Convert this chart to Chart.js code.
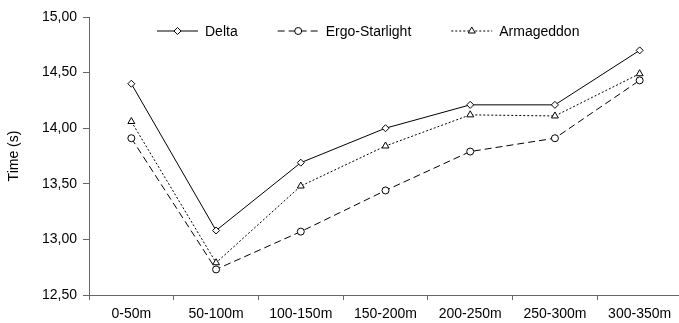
<!DOCTYPE html>
<html>
<head>
<meta charset="utf-8">
<script src="https://cdn.jsdelivr.net/npm/chart.js@4/dist/chart.umd.min.js"></script>
<style>
  html, body { margin: 0; padding: 0; background: #fff; overflow: hidden; }
  #wrap { width: 687px; height: 323px; position: relative; }
</style>
</head>
<body>
<div id="wrap"><canvas id="myChart"></canvas></div>
<script>
// Distance segments along the x-axis
var segments = ['0-50m', '50-100m', '100-150m', '150-200m', '200-250m', '250-300m', '300-350m'];
// Split times in seconds
var delta = [14.40, 13.08, 13.69, 14.00, 14.21, 14.21, 14.70];
var ergoStarlight = [13.91, 12.73, 13.07, 13.44, 13.79, 13.91, 14.43];
var armageddon = [14.06, 12.79, 13.48, 13.84, 14.12, 14.11, 14.49];

var fontFamily = '"Liberation Sans", Arial, Helvetica, sans-serif';

// legend with a short line sample and the marker on it
var lineLegend = {
  id: 'lineLegend',
  afterDraw: function(chart) {
    var c = chart.ctx;
    c.save();
    c.font = '14px ' + fontFamily;
    c.textBaseline = 'middle';
    var x = 157, y = 31, sample = 41;
    chart.data.datasets.forEach(function(ds) {
      c.strokeStyle = ds.borderColor;
      c.lineWidth = 1;
      c.setLineDash(ds.borderDash || []);
      c.beginPath();
      c.moveTo(x, y);
      c.lineTo(x + sample, y);
      c.stroke();
      c.setLineDash([]);
      c.fillStyle = '#fff';
      Chart.helpers.drawPoint(c, {pointStyle: ds.pointStyle, radius: ds.pointRadius, borderWidth: 1}, x + sample / 2, y);
      c.fillStyle = '#000';
      c.fillText(ds.label, x + sample + 7, y + 1);
      x += sample + 7 + c.measureText(ds.label).width + 40;
    });
    c.restore();
  }
};

var ctx = document.getElementById('myChart');
var myChart = new Chart(ctx, {
  type: 'line',
  data: {
    labels: segments,
    datasets: [
      {
        label: 'Delta',
        data: delta,
        borderColor: '#000',
        backgroundColor: '#fff',
        borderWidth: 1,
        pointStyle: 'rectRot',
        pointRadius: 3.5,
        pointBorderWidth: 1,
        tension: 0
      },
      {
        label: 'Ergo-Starlight',
        data: ergoStarlight,
        borderColor: '#000',
        backgroundColor: '#fff',
        borderWidth: 1,
        borderDash: [7, 4],
        pointStyle: 'circle',
        pointRadius: 3.5,
        pointBorderWidth: 1,
        tension: 0
      },
      {
        label: 'Armageddon',
        data: armageddon,
        borderColor: '#000',
        backgroundColor: '#fff',
        borderWidth: 1,
        borderDash: [2, 2],
        pointStyle: 'triangle',
        pointRadius: 4,
        pointBorderWidth: 1,
        tension: 0
      }
    ]
  },
  options: {
    responsive: true,
    maintainAspectRatio: false,
    animation: false,
    layout: { padding: { top: 17, right: 0, left: 0, bottom: 0 } },
    plugins: {
      legend: { display: false },
      tooltip: { enabled: false }
    },
    scales: {
      x: {
        offset: true,
        grid: { offset: true, drawOnChartArea: false, color: '#666', tickLength: 5 },
        border: { color: '#666' },
        ticks: { color: '#000', font: { size: 14, family: fontFamily }, padding: 6, maxRotation: 0, autoSkip: false },
        afterFit: function(s) { s.height = 28; }
      },
      y: {
        min: 12.5,
        max: 15,
        grid: { drawOnChartArea: false, color: '#666', tickLength: 6 },
        border: { color: '#666' },
        ticks: {
          stepSize: 0.5,
          color: '#000',
          font: { size: 14, family: fontFamily },
          padding: 6,
          callback: function(v) { return v.toFixed(2).replace('.', ','); }
        },
        title: {
          display: true,
          text: 'Time (s)',
          color: '#000',
          font: { size: 14, family: fontFamily },
          padding: { top: 6, bottom: 0 }
        },
        afterFit: function(s) { s.width = 89; }
      }
    }
  },
  plugins: [lineLegend]
});
</script>
</body>
</html>
